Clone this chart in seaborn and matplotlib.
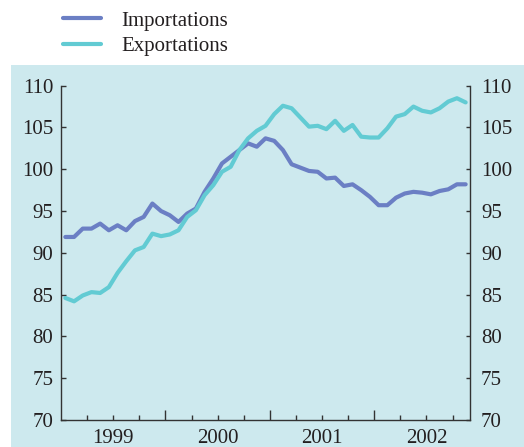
import numpy as np
import pandas as pd
import matplotlib
matplotlib.use("Agg")
import matplotlib.pyplot as plt
from matplotlib.patches import Rectangle
from matplotlib.lines import Line2D
import seaborn as sns

# Monthly indices, January 1999 to November 2002
start_year = 1999
year_labels = ["1999", "2000", "2001", "2002"]
importations = [91.9, 91.9, 92.9, 92.9, 93.5, 92.7, 93.3, 92.7, 93.8, 94.3,
                95.9, 95.0, 94.5, 93.7, 94.7, 95.3, 97.3, 98.9, 100.7, 101.5,
                102.3, 103.1, 102.7, 103.7, 103.4, 102.3, 100.6, 100.2, 99.8, 99.7,
                98.9, 99.0, 98.0, 98.2, 97.5, 96.7, 95.7, 95.7, 96.6, 97.1,
                97.3, 97.2, 97.0, 97.4, 97.6, 98.2, 98.2]
exportations = [84.6, 84.2, 84.9, 85.3, 85.2, 85.9, 87.6, 89.0, 90.3, 90.7,
                92.3, 92.0, 92.2, 92.7, 94.3, 95.1, 96.9, 98.1, 99.7, 100.3,
                102.3, 103.7, 104.6, 105.2, 106.6, 107.6, 107.3, 106.2, 105.1, 105.2,
                104.8, 105.8, 104.6, 105.3, 103.9, 103.8, 103.8, 104.9, 106.3, 106.6,
                107.5, 107.0, 106.8, 107.3, 108.1, 108.5, 108.0]
series_names = ["Importations", "Exportations"]
series_colors = ["#6b7fc4", "#62cbd3"]
y_ticks = [70, 75, 80, 85, 90, 95, 100, 105, 110]

BG = "#cde9ee"
INK = "#231f20"

n = len(importations)
month_pos = start_year + (np.arange(n) + 0.5) / 12.0
df = pd.DataFrame({
    "date": np.tile(month_pos, 2),
    "value": importations + exportations,
    "serie": np.repeat(series_names, n),
})

sns.set_theme(style="white")
plt.rcParams["font.family"] = ["Liberation Serif", "DejaVu Serif"]
plt.rcParams["text.color"] = INK

W, H = 524, 447
fig = plt.figure(figsize=(W / 100, H / 100), dpi=100)
fig.patch.set_facecolor("white")

# tinted panel behind the plot
fig.patches.append(Rectangle((11 / W, 0), 1 - 11 / W, 1 - 65 / H,
                             transform=fig.transFigure, facecolor=BG,
                             edgecolor="none", zorder=-5))

ax = fig.add_axes([61 / W, 1 - 420 / H, (470 - 61) / W, (420 - 85.7) / H])
ax.set_facecolor("none")

sns.lineplot(data=df, x="date", y="value", hue="serie",
             palette=dict(zip(series_names, series_colors)),
             linewidth=3.0, ax=ax, legend=False)

x0 = start_year
x1 = start_year + len(year_labels) - 1 + 11 / 12
ax.set_xlim(x0, x1)
ax.set_ylim(70, 110)
ax.set_xlabel("")
ax.set_ylabel("")

for side in ["left", "right", "bottom"]:
    ax.spines[side].set_visible(True)
    ax.spines[side].set_color("#333333")
    ax.spines[side].set_linewidth(1.0)
ax.spines["top"].set_visible(False)

# x axis: long ticks at year boundaries, short ones every quarter
ax.set_xticks([start_year + k for k in range(1, len(year_labels))])
ax.set_xticks([q / 4 for q in range(int(x0 * 4) + 1, int(x1 * 4) + 1) if q % 4 != 0],
              minor=True)
ax.tick_params(axis="x", which="major", direction="in", length=7.5, width=1.0,
               color="#333333", labelbottom=False, bottom=True)
ax.tick_params(axis="x", which="minor", direction="in", length=3.6, width=1.0,
               color="#333333", bottom=True)
for k, lab in enumerate(year_labels):
    ax.annotate(lab, xy=(start_year + k + 0.5, 0), xycoords=ax.get_xaxis_transform(),
                xytext=(0, -6.5), textcoords="offset points", ha="center", va="top",
                fontsize=15, color=INK)

# y axis labels on both sides
ax.set_yticks(y_ticks)
ax.set_yticklabels([str(v) for v in y_ticks])
ax.tick_params(axis="y", which="major", direction="in", length=3.5, width=1.0,
               color="#333333", left=True, labelsize=15, labelcolor=INK, pad=5.5)
axr = ax.twinx()
axr.set_ylim(ax.get_ylim())
axr.set_yticks(y_ticks)
axr.set_yticklabels([str(v) for v in y_ticks])
axr.tick_params(axis="y", which="major", direction="in", length=3.0, width=1.0,
                color="#333333", right=True, labelsize=15, labelcolor=INK, pad=8)
for s in axr.spines.values():
    s.set_visible(False)
axr.grid(False)
ax.grid(False)

handles = [Line2D([], [], color=c, linewidth=3.0) for c in series_colors]
fig.legend(handles, series_names, loc="upper left",
           bbox_to_anchor=(63 / W, 1 - 11 / H), frameon=False, fontsize=15,
           handlelength=1.8, handletextpad=1.0, labelspacing=0.3,
           borderpad=0, borderaxespad=0)

fig.savefig("out.png", dpi=100, facecolor="white")
